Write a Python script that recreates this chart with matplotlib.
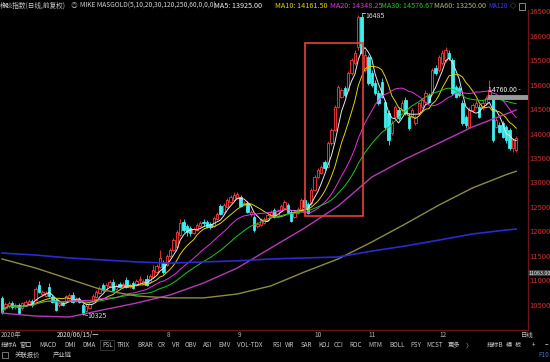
import numpy as np
import pandas as pd
import matplotlib
matplotlib.use('Agg')
import matplotlib.pyplot as plt
from matplotlib.patches import Rectangle
from matplotlib.transforms import blended_transform_factory

plt.rcParams['font.family'] = ['Noto Sans CJK SC', 'DejaVu Sans']

# daily bars of 橡胶指数 (2020)
opens = [10665, 10460, 10500, 10560, 10480, 10520, 10460, 10520, 10540, 10600,
         10620, 10930, 10745, 10705, 10890, 10685, 10620, 10520, 10560, 10580,
         10665, 10725, 10600, 10645, 10520, 10400, 10460, 10600, 10685, 10765,
         10930, 10845, 10910, 10990, 10845, 10950, 10890, 11030, 10890, 10970,
         10930, 11030, 10970, 11050, 10990, 11090, 11195, 11295, 11400, 11335,
         11520, 11640, 11705, 11950, 12215, 12130, 12090, 11990, 12050, 12130,
         12215, 12215, 12175, 12130, 12275, 12540, 12420, 12520, 12620, 12665,
         12705, 12725, 12560, 12600, 12380, 12315, 12130, 12150, 12195, 12255,
         12335, 12460, 12335, 12440, 12500, 12560, 12420, 12315, 12400, 12460,
         12665, 12580, 12600, 12865, 13130, 13215, 13440, 13340, 13825, 14090,
         14560, 14765, 14950, 14910, 15255, 15460, 15785, 16400, 15315, 15580,
         15255, 15050, 14845, 15070, 14665, 14440, 14030, 14355, 14500, 14500,
         14705, 14355, 14355, 14235, 14440, 14560, 14665, 14805, 14845, 15355,
         15315, 15460, 15520, 15665, 15520, 14970, 14950, 14645, 14355, 14155,
         14500, 14560, 14560, 14540, 14645, 14745, 14765, 14155, 14195, 14235,
         14155, 14090, 13725, 13685]
highs = [10705, 10580, 10600, 10600, 10560, 10560, 10580, 10620, 10645, 10645,
         10890, 11010, 10825, 10805, 10970, 10725, 10665, 10580, 10600, 10725,
         10765, 10785, 10685, 10685, 10560, 10540, 10580, 10745, 10825, 10910,
         10970, 10970, 11030, 11050, 10950, 10990, 10990, 11090, 10970, 11010,
         11050, 11110, 11050, 11130, 11150, 11335, 11355, 11640, 11440, 11560,
         11685, 11890, 12050, 12275, 12275, 12175, 12130, 12110, 12195, 12235,
         12275, 12255, 12215, 12335, 12420, 12580, 12600, 12705, 12765, 12825,
         12825, 12765, 12640, 12640, 12460, 12355, 12215, 12295, 12315, 12400,
         12460, 12500, 12480, 12580, 12665, 12600, 12460, 12460, 12520, 12705,
         12705, 12620, 12905, 13175, 13315, 13380, 13480, 13870, 14135, 14600,
         15010, 14950, 14990, 15295, 15560, 15725, 16440, 16485, 15725, 15620,
         15315, 15110, 14910, 15150, 14705, 14500, 14295, 14600, 14560, 14705,
         14765, 14440, 14540, 14400, 14665, 14745, 14910, 14845, 15355, 15420,
         15620, 15725, 15785, 15725, 15560, 15010, 14990, 14705, 14400, 14560,
         14645, 14705, 14620, 14705, 14785, 15110, 14805, 14355, 14250, 14275,
         14195, 14135, 13930, 13970]
lows = [10340, 10420, 10460, 10440, 10440, 10340, 10420, 10500, 10520, 10480,
        10600, 10765, 10705, 10685, 10685, 10560, 10400, 10480, 10500, 10560,
        10645, 10560, 10580, 10560, 10325, 10380, 10440, 10580, 10665, 10745,
        10805, 10825, 10890, 10805, 10825, 10865, 10865, 10865, 10865, 10845,
        10910, 10950, 10950, 10910, 10970, 11070, 11175, 11275, 11150, 11315,
        11500, 11620, 11685, 11930, 12010, 11930, 11930, 11970, 12030, 12110,
        12130, 12090, 12070, 12110, 12255, 12355, 12400, 12500, 12600, 12645,
        12685, 12520, 12540, 12400, 12335, 12010, 12090, 12130, 12175, 12235,
        12315, 12295, 12315, 12420, 12480, 12400, 12215, 12295, 12380, 12440,
        12500, 12380, 12560, 12845, 13110, 13195, 13275, 13315, 13785, 14070,
        14540, 14745, 14765, 14865, 15215, 15420, 15725, 15620, 15275, 15010,
        14970, 14805, 14600, 14745, 14090, 13785, 13990, 14335, 14295, 14460,
        14400, 14090, 14335, 14195, 14400, 14540, 14645, 14645, 14805, 15215,
        15275, 15420, 15480, 15520, 14805, 14745, 14765, 14195, 14135, 14135,
        14460, 14540, 14335, 14500, 14600, 14705, 13850, 14135, 14030, 13930,
        13825, 13685, 13640, 13640]
closes = [10380, 10540, 10560, 10480, 10520, 10360, 10560, 10580, 10600, 10520,
          10845, 10785, 10785, 10765, 10705, 10580, 10420, 10560, 10520, 10705,
          10725, 10580, 10645, 10580, 10360, 10500, 10540, 10705, 10785, 10865,
          10825, 10930, 10990, 10825, 10910, 10890, 10950, 10890, 10930, 10865,
          11010, 11035, 11010, 10930, 11110, 11235, 11315, 11480, 11195, 11520,
          11640, 11845, 12010, 12195, 12050, 12010, 11990, 12070, 12150, 12195,
          12195, 12110, 12110, 12295, 12380, 12380, 12560, 12665, 12725, 12765,
          12785, 12540, 12600, 12420, 12420, 12050, 12175, 12255, 12275, 12355,
          12420, 12315, 12440, 12540, 12620, 12420, 12235, 12420, 12480, 12665,
          12520, 12400, 12865, 13130, 13275, 13340, 13315, 13825, 14090, 14560,
          14970, 14910, 14805, 15255, 15520, 15665, 16400, 15665, 15620, 15050,
          15010, 14845, 14645, 14765, 14155, 13890, 14235, 14560, 14335, 14645,
          14440, 14135, 14500, 14355, 14645, 14705, 14845, 14665, 15315, 15255,
          15580, 15665, 15725, 15560, 14845, 14765, 14805, 14235, 14195, 14500,
          14600, 14645, 14355, 14645, 14745, 14910, 13890, 14295, 14050, 13950,
          13890, 13725, 13890, 13930]

# long averages, read every 10 bars (their history lies before the window)
long_idx = [0, 10, 20, 30, 40, 50, 60, 70, 80, 90, 100, 110, 120, 130, 140, 150, 153]
ma60_vals = [10355, 10295, 10275, 10420, 10560, 10725, 10970, 11275, 11685, 12090,
             12540, 13130, 13500, 13825, 14155, 14420, 14500]
ma120_vals = [11460, 11275, 11050, 10825, 10705, 10665, 10665, 10745, 10910, 11195,
              11460, 11805, 12175, 12560, 12910, 13180, 13250]
ma250_vals = [11580, 11540, 11480, 11440, 11400, 11375, 11400, 11420, 11460, 11480,
              11500, 11620, 11725, 11845, 11970, 12050, 12070]

month_idx = [49, 70, 93, 109, 130]
month_labels = ['8', '9', '10', '11', '12']
price_ticks = [16500, 16000, 15500, 15000, 14500, 14000, 13500, 13000,
               12500, 12000, 11500, 11000, 10500]

peak_price = 16485
peak_idx = 107
low_price = 10325
low_idx = 24
line_price = 14760
cursor_text = '11063.00'
cursor_label_y = 11170
box_left, box_right = 90.2, 107.4
box_top, box_bottom = 15870, 12335

BG = '#000000'
UP = '#ff3c3c'
DOWN = '#40eeee'
FRAME = '#6e1414'
W, H = 550, 362


def px(x, y):
    return x / W, 1 - y / H


fig = plt.figure(figsize=(5.5, 3.62), dpi=100, facecolor=BG)
ax = fig.add_axes([0, 1 - 330 / H, 528 / W, 320 / H])
ax.set_facecolor(BG)
ax.set_xlim(-0.6, 156.5)
ax.set_ylim(10010, 16541)
ax.set_xticks([])
ax.set_yticks([])
for side in ['top', 'left']:
    ax.spines[side].set_visible(False)
for side in ['right', 'bottom']:
    ax.spines[side].set_color(FRAME)
    ax.spines[side].set_linewidth(1.0)

# candles: hollow red up bars, solid cyan down bars
for i, (o, h, l, c) in enumerate(zip(opens, highs, lows, closes)):
    up = c >= o
    col = UP if up else DOWN
    ax.vlines(i, l, h, color=col, lw=0.6, zorder=2)
    lo, hi = min(o, c), max(o, c)
    if hi - lo < 15:
        hi = lo + 15
    ax.add_patch(Rectangle((i - 0.35, lo), 0.7, hi - lo,
                           facecolor=BG if up else col, edgecolor=col,
                           lw=0.6, zorder=3))

# moving averages
idx = np.arange(len(closes))
s = pd.Series(closes, dtype=float)
for n, col in [(5, '#e8e8e8'), (10, '#e6d200'), (20, '#e632e6'), (30, '#1ec81e')]:
    ax.plot(idx, s.rolling(n, min_periods=1).mean(), color=col, lw=0.7, zorder=4)
ax.plot(long_idx, ma60_vals, color='#b43cb4', lw=1.0, zorder=4)
ax.plot(long_idx, ma120_vals, color='#8c8c46', lw=1.0, zorder=4)
ax.plot(long_idx, ma250_vals, color='#2a2ad2', lw=1.2, zorder=4)

# highlighted rally
ax.add_patch(Rectangle((box_left, box_bottom), box_right - box_left, box_top - box_bottom,
                       fill=False, edgecolor='#e8403a', lw=1.2, zorder=5))

# extreme markers
ax.plot([peak_idx + 0.2, peak_idx + 0.9], [peak_price, peak_price], color='#c8c8c8', lw=0.6, zorder=6)
ax.text(peak_idx + 1.2, peak_price - 60, str(peak_price), color='#d8d8d8', fontsize=5,
        va='center', ha='left', zorder=6)
ax.plot([low_idx + 0.3, low_idx + 1.4], [low_price, low_price - 20], color='#c8c8c8', lw=0.6, zorder=6)
ax.text(low_idx + 1.5, low_price - 20, str(low_price), color='#d8d8d8', fontsize=5,
        va='center', ha='left', zorder=6)

# price line marker
ax.plot([144.4, 156.5], [line_price, line_price], color='#9a9a9a', lw=3.5,
        solid_capstyle='butt', zorder=6)
ax.text(144.6, line_price + 70, '14760.00 -', color='#f0f0f0', fontsize=5,
        va='bottom', ha='left', zorder=7)

# right price scale
ytr = ax.get_yaxis_transform()
for p in price_ticks:
    ax.text(1.002, p, str(p), transform=ytr, color='#c83232', fontsize=5.5,
            va='center', ha='left', clip_on=False)
ax.text(1.001, cursor_label_y, cursor_text, transform=ytr, color='#f0f0f0', fontsize=3.9,
        va='center', ha='left', clip_on=False, zorder=8,
        bbox=dict(facecolor='#3c3c3c', edgecolor='none', pad=0.3))

# header
header = [(0, '橡胶指数(日线,前复权)', '#c8c8c8', 4.8),
          (71, '◎', '#9a9a9a', 4.8),
          (80, 'MIKE MASGOLD(5,10,20,30,120,250,60,0,0,0)', '#d2d2d2', 4.8),
          (214, 'MA5: 13925.00', '#f0f0f0', 5.2),
          (275, 'MA10: 14161.50', '#e6d200', 5.2),
          (330, 'MA20: 14348.25', '#e632e6', 5.2),
          (381, 'MA30: 14576.67', '#1ec81e', 5.2),
          (434, 'MA60: 13250.00', '#b4b46e', 5.2),
          (488, 'MA120', '#3c3cff', 4.5),
          (510, '◇', '#9a9a9a', 4.5)]
for x, t, col, fs in header:
    fig.text(*px(x, 6), t, color=col, fontsize=fs, va='center', ha='left')
fig.patches.append(Rectangle(px(519, 10), 6 / W, 7 / H, transform=fig.transFigure,
                             fill=False, edgecolor='#9a9a9a', lw=0.6))

# time axis
fig.text(*px(1, 335), '2020年', color='#b4b4b4', fontsize=4.6, va='center', ha='left')
fig.text(*px(57, 335), '2020/06/15/一', color='#e6e6e6', fontsize=4.6, va='center', ha='left')
xtr = blended_transform_factory(ax.transData, fig.transFigure)
for i, lab in zip(month_idx, month_labels):
    ax.text(i, 1 - 335 / H, lab, transform=xtr, color='#b4b4b4', fontsize=4.6,
            va='center', ha='left', clip_on=False)
fig.text(*px(521, 335), '日线', color='#c8c8c8', fontsize=4.6, va='center', ha='left')

# indicator toolbar
tabs = [(1, '指标A'), (19, '窗口'), (39, 'MACD'), (64, 'DMI'), (82, 'DMA'), (102, 'FSL'),
        (117, 'TRIX'), (137, 'BRAR'), (158, 'CR'), (172, 'VR'), (185, 'OBV'), (203, 'ASI'),
        (218, 'EMV'), (237, 'VOL-TDX'), (272, 'RSI'), (285, 'WR'), (301, 'SAR'),
        (318, 'KDJ'), (334, 'CCI'), (349, 'ROC'), (368, 'MTM'), (389, 'BOLL'),
        (410, 'PSY'), (426, 'MCST'), (448, '更多'), (466, '〉'), (487, '指标B'),
        (506, '模'), (515, '板'), (532, '+'), (545, '−')]
for x, t in tabs:
    fig.text(*px(x, 345), t, color='#c8c8c8', fontsize=4.5, va='center', ha='left')
fig.patches.append(Rectangle(px(100, 350), 14 / W, 10 / H, transform=fig.transFigure,
                             fill=False, edgecolor='#4a4a4a', lw=0.5))

fig.patches.append(Rectangle(px(2, 358), 6 / W, 6 / H, transform=fig.transFigure,
                             fill=False, edgecolor='#a0a0a0', lw=0.5))
fig.text(*px(15, 355), '关联报价', color='#c8c8c8', fontsize=4.6, va='center', ha='left')
fig.text(*px(53, 355), '产业链', color='#c8c8c8', fontsize=4.6, va='center', ha='left')
fig.text(*px(538, 355), 'F10', color='#3c78c8', fontsize=4.6, va='center', ha='left')

fig.savefig('out.png', dpi=100, facecolor=BG)
